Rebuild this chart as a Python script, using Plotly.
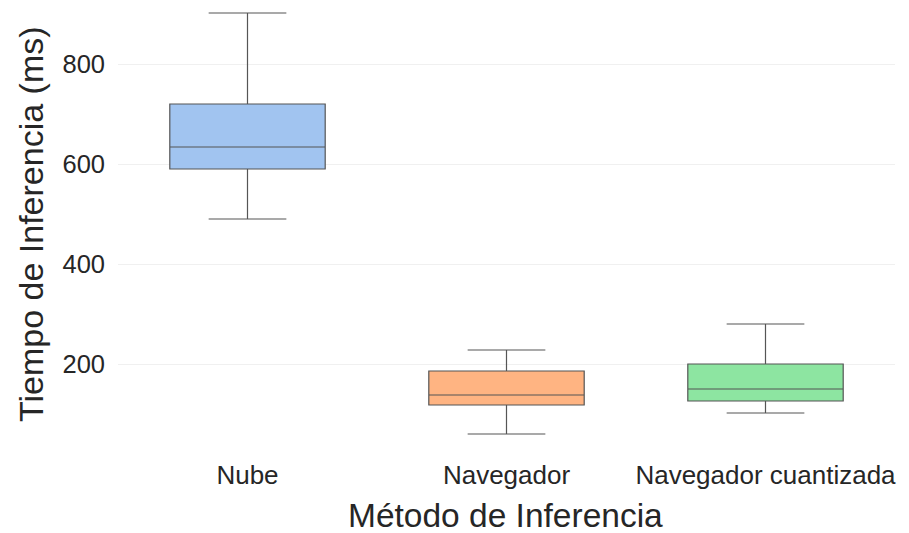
import plotly.graph_objects as go

categories = ["Nube", "Navegador", "Navegador cuantizada"]
lower_whisker = [490, 60, 102]
q1_vals = [590, 118, 126]
median_vals = [634, 138, 150]
q3_vals = [720, 186, 200]
upper_whisker = [902, 228, 280]
colors = ["#a1c4f0", "#ffb482", "#8de5a1"]
x_title = "Método de Inferencia"
y_title = "Tiempo de Inferencia (ms)"

FONT = "Liberation Sans, Arial, sans-serif"
TXT = "#262626"

# plot area in pixels
L, R, T, B = 118, 14, 0, 78
W, H = 909, 533
pw, ph = W - L - R, H - T - B

fig = go.Figure()
for i, cat in enumerate(categories):
    fig.add_trace(go.Box(
        x=[cat],
        q1=[q1_vals[i]], median=[median_vals[i]], q3=[q3_vals[i]],
        lowerfence=[lower_whisker[i]], upperfence=[upper_whisker[i]],
        fillcolor=colors[i],
        line=dict(color="#555555", width=1.2),
        width=0.6, whiskerwidth=0.5,
        boxpoints=False, showlegend=False, hoverinfo="skip",
    ))

fig.update_layout(
    width=W, height=H,
    margin=dict(l=L, r=R, t=T, b=B, autoexpand=False),
    paper_bgcolor="white", plot_bgcolor="white",
    font=dict(family=FONT, color=TXT),
    boxmode="overlay",
    xaxis=dict(
        type="category", categoryorder="array", categoryarray=categories,
        range=[-0.5, 2.5], showgrid=False, zeroline=False, showline=False,
        tickfont=dict(size=26, color=TXT), ticklabelstandoff=2,
        automargin=False,
    ),
    yaxis=dict(
        range=[18, 928], tickvals=[200, 400, 600, 800],
        showgrid=True, gridcolor="#f0f0f0", gridwidth=1,
        zeroline=False, showline=False,
        tickfont=dict(size=25.5, color=TXT), ticklabelstandoff=12,
        automargin=False,
    ),
    annotations=[
        dict(text=x_title, xref="paper", yref="paper",
             x=(505 - L) / pw, y=1 - (515 - T) / ph,
             xanchor="center", yanchor="middle", showarrow=False,
             font=dict(size=33.5, color=TXT)),
        dict(text=y_title, xref="paper", yref="paper",
             x=(31 - L) / pw, y=1 - (224 - T) / ph, textangle=-90,
             xanchor="center", yanchor="middle", showarrow=False,
             font=dict(size=34, color=TXT)),
    ],
)

fig.write_html("out.html", config={"displayModeBar": False},
               post_script="document.body.style.margin='0';")
